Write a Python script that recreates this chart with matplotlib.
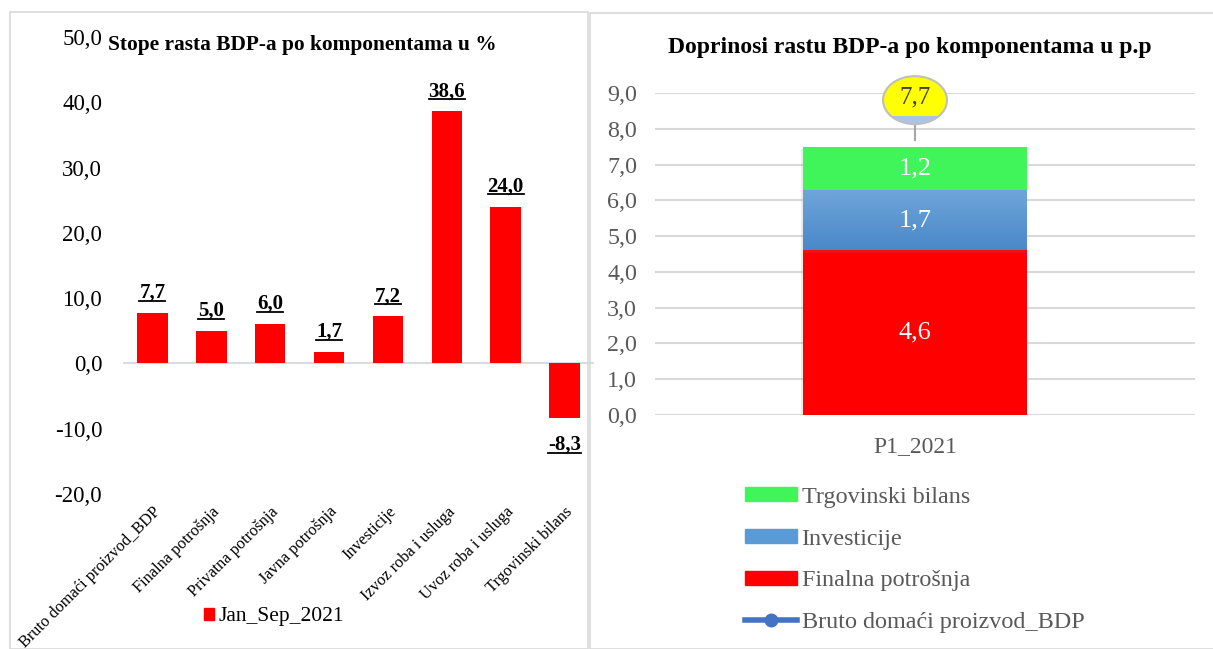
import numpy as np
import matplotlib
matplotlib.use("Agg")
import matplotlib.pyplot as plt
from matplotlib.patches import Rectangle, Ellipse, Patch
from matplotlib.lines import Line2D
from matplotlib.colors import LinearSegmentedColormap
import matplotlib.patheffects as pe

plt.rcParams['font.family'] = ['Liberation Serif', 'DejaVu Serif']

# lijevi grafikon - stope rasta
kategorije = ['Bruto domaći proizvod_BDP', 'Finalna potrošnja', 'Privatna potrošnja',
              'Javna potrošnja', 'Investicije', 'Izvoz roba i usluga',
              'Uvoz roba i usluga', 'Trgovinski bilans']
stope = [7.7, 5.0, 6.0, 1.7, 7.2, 38.6, 24.0, -8.3]
serija_lijevo = 'Jan_Sep_2021'

# desni grafikon - doprinosi rastu
period = ['P1_2021']
komponente = ['Finalna potrošnja', 'Investicije', 'Trgovinski bilans']
doprinosi = [4.6, 1.7, 1.2]
bdp_ukupno = [7.7]
boje = ['#FF0000', '#5B9BD5', '#3FF55A']

W, H = 1213, 649
fig = plt.figure(figsize=(W / 100, H / 100), dpi=100)

def px(x0, y0, x1, y1):
    # pravougaonik u pikselima -> koordinate figure
    return [x0 / W, 1 - y1 / H, (x1 - x0) / W, (y1 - y0) / H]

def fmt(v):
    return f'{v:.1f}'.replace('.', ',')

# okviri panela
fig.patches.append(Rectangle((10 / W, 0), 578 / W, 1 - 12 / H, transform=fig.transFigure,
                             fill=False, edgecolor='#d9d9d9', lw=1.2))
fig.patches.append(Rectangle((590 / W, 0), 640 / W, 1 - 13 / H, transform=fig.transFigure,
                             fill=False, edgecolor='#d9d9d9', lw=1.2))

# ---------------- lijevi ----------------
ax1 = fig.add_axes(px(123, 37, 594, 494))
x = np.arange(len(kategorije))
ax1.bar(x, stope, 0.52, color='#FF0000', zorder=3)
ax1.axhline(0, color='#d9dde3', lw=1.5, zorder=2)
ax1.set_ylim(-20, 50)
ax1.set_xlim(-0.5, 7.5)
yt = np.arange(-20, 51, 10)
ax1.set_yticks(yt)
ax1.set_yticklabels([fmt(v) for v in yt], fontsize=16.5)
ax1.set_xticks(x)
ax1.set_xticklabels(kategorije, rotation=45, ha='right', rotation_mode='anchor', fontsize=11.8)
ax1.tick_params(axis='both', length=0, pad=7)
ax1.tick_params(axis='y', pad=15)
for s in ax1.spines.values():
    s.set_visible(False)
ax1.patch.set_alpha(0)

lbls = []
for xi, v in zip(x, stope):
    off = 11 if v >= 0 else -23
    t = ax1.annotate(fmt(v), (xi, v), xytext=(0, off),
                     textcoords='offset points', ha='center', va='baseline',
                     fontsize=15, fontweight='bold')
    lbls.append(t)

fig.text(108 / W, 1 - 45 / H, 'Stope rasta BDP-a po komponentama u %', fontsize=15.4,
         fontweight='bold', va='center', ha='left')

fig.legend([Patch(color='#FF0000')], [serija_lijevo], loc='center left',
           bbox_to_anchor=(185 / W, 1 - 617 / H), frameon=False, fontsize=15.5,
           handlelength=0.45, handleheight=0.45, handletextpad=0.2)

# ---------------- desni ----------------
ax2 = fig.add_axes(px(655, 93, 1195, 415))
dno = 0
bars = []
for naziv, v, c in zip(komponente, doprinosi, boje):
    b = ax2.bar([0], [v], 1.0, bottom=dno, color=c, zorder=3, label=naziv,
                path_effects=[pe.SimplePatchShadow(offset=(-1.5, -1.5), alpha=0.15, shadow_rgbFace='#808080'),
                              pe.Normal()])
    bars.append(b[0])
    dno += v

# gradijent za investicije
plava = bars[1]
grad = np.linspace(0, 1, 100).reshape(-1, 1)
cmap = LinearSegmentedColormap.from_list('pl', ['#4A88C9', '#6FA6DA'])
im = ax2.imshow(grad, cmap=cmap, origin='lower', aspect='auto', zorder=4,
                extent=(plava.get_x(), plava.get_x() + plava.get_width(),
                        plava.get_y(), plava.get_y() + plava.get_height()))
im.set_clip_path(plava)

dno = 0
for v in doprinosi:
    ax2.text(0, dno + v / 2, fmt(v), ha='center', va='center',
             color='white', fontsize=19, zorder=6)
    dno += v

# BDP (jedna tacka) + oblacic s vrijednoscu
bx, by = 0, 8.8
ew, eh = 64 / 224, 48 / 35.78
ax2.plot([0, 0], [bdp_ukupno[0], by - eh / 2], color='#a6a6a6', lw=1.5, zorder=6, clip_on=False)
el = Ellipse((bx, by), ew, eh, facecolor='#FFFF00', edgecolor='none', zorder=7, clip_on=False)
ax2.add_patch(el)
donji = Rectangle((bx - ew, by - eh / 2), 2 * ew, 0.24, facecolor='#a9c4e4', edgecolor='none',
                  zorder=7.5)
ax2.add_patch(donji)
donji.set_clip_path(el)
ax2.add_patch(Ellipse((bx, by), ew, eh, facecolor='none', edgecolor='#bfbfbf', lw=1.5,
                      zorder=8, clip_on=False))
ax2.text(bx, by + 0.08, fmt(bdp_ukupno[0]), ha='center', va='center',
         fontsize=18, color='#404040', zorder=9, clip_on=False)

ax2.set_xlim(-260 / 224, 280 / 224)
ax2.set_ylim(0, 9)
ax2.set_yticks(np.arange(0, 10))
ax2.set_yticklabels([fmt(v) for v in range(10)], fontsize=17.3, color='#595959')
ax2.set_xticks([0])
ax2.set_xticklabels(period, fontsize=17, color='#595959')
ax2.tick_params(axis='both', length=0)
ax2.tick_params(axis='y', pad=13)
ax2.tick_params(axis='x', pad=15)
ax2.grid(axis='y', color='#d9d9d9', lw=1.5, zorder=0)
for s in ax2.spines.values():
    s.set_visible(False)
ax2.patch.set_alpha(0)

fig.text(910 / W, 1 - 48 / H, 'Doprinosi rastu BDP-a po komponentama u p.p', fontsize=17,
         fontweight='bold', va='center', ha='center')

handles = [Patch(color=boje[2]), Patch(color='#5B9BD5'), Patch(color=boje[0]),
           Line2D([], [], color='#4472C4', lw=4, marker='o', ms=9)]
labels = ['Trgovinski bilans', 'Investicije', 'Finalna potrošnja', 'Bruto domaći proizvod_BDP']
fig.legend(handles, labels, loc='center left', bbox_to_anchor=(723 / W, 1 - 560 / H),
           frameon=False, fontsize=17.4, handlelength=2.15, handleheight=0.5,
           labelspacing=0.86, handletextpad=0.2, labelcolor='#595959')

# podvlacenje vrijednosti na lijevom grafikonu
fig.canvas.draw()
r = fig.canvas.get_renderer()
for t in lbls:
    bb = t.get_window_extent(r)
    y = bb.y0 + 2
    fig.add_artist(Line2D([bb.x0 / W, bb.x1 / W], [y / H, y / H], color='black', lw=1.3,
                          transform=fig.transFigure))

fig.savefig('out.png', dpi=100)
